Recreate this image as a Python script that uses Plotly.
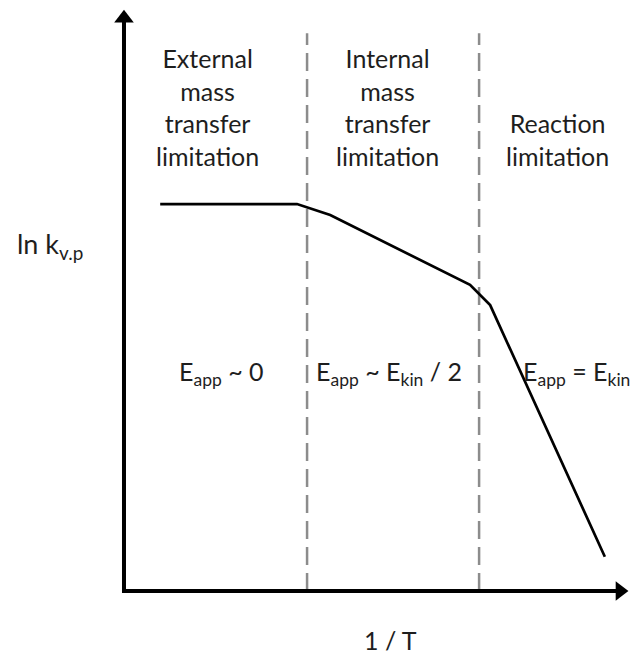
import plotly.graph_objects as go

# Schematic Arrhenius plot: ln k vs 1/T across three rate-limiting regimes
# (arbitrary units, y axis at x=0 and x axis at y=0)
inv_T = [0.72, 3.44, 4.10, 6.88, 7.28, 9.56]
ln_k = [6.66, 6.66, 6.47, 5.27, 4.92, 0.59]

# regime boundaries on the 1/T axis
boundaries = [3.64, 7.06]
boundary_top = 9.60

regime_titles = [
    "External<br>mass<br>transfer<br>limitation",
    "Internal<br>mass<br>transfer<br>limitation",
    "Reaction<br>limitation",
]
regime_title_x = [1.67, 5.23, 8.61]

energy_labels = [
    "E<sub>app</sub> ~ 0",
    "E<sub>app</sub> ~ E<sub>kin</sub> / 2",
    "E<sub>app</sub> = E<sub>kin</sub>",
]
energy_label_x = [1.93, 5.27, 7.89]
energy_label_anchor = ["center", "center", "left"]
energy_label_y = 3.75

axis_len = 10.0
FONT = "Lato, Calibri, Carlito, sans-serif"
TXT = "#1e1e1e"

fig = go.Figure()

# dashed regime boundaries
for xb in boundaries:
    fig.add_trace(go.Scatter(
        x=[xb, xb], y=[0, boundary_top], mode="lines",
        line=dict(color="#8c8c8c", width=2.5, dash="18px,8px"),
        hoverinfo="skip", showlegend=False))

# axes with arrow heads
fig.add_trace(go.Scatter(
    x=[0, 0, axis_len - 0.2], y=[axis_len - 0.2, 0, 0], mode="lines",
    line=dict(color="black", width=4), hoverinfo="skip", showlegend=False))
fig.add_trace(go.Scatter(
    x=[0], y=[axis_len - 0.14], mode="markers",
    marker=dict(symbol="triangle-up", size=17, color="black"),
    hoverinfo="skip", showlegend=False))
fig.add_trace(go.Scatter(
    x=[axis_len - 0.14], y=[0], mode="markers",
    marker=dict(symbol="triangle-right", size=17, color="black"),
    hoverinfo="skip", showlegend=False))

# ln k curve
fig.add_trace(go.Scatter(
    x=inv_T, y=ln_k, mode="lines",
    line=dict(color="black", width=2.7),
    hoverinfo="skip", showlegend=False))

annotations = []
for txt, xc in zip(regime_titles, regime_title_x):
    annotations.append(dict(
        x=xc, y=7.19, xref="x", yref="y", text=txt, showarrow=False,
        xanchor="center", yanchor="bottom", align="center",
        font=dict(family=FONT, size=25, color=TXT)))
for txt, xc, anc in zip(energy_labels, energy_label_x, energy_label_anchor):
    annotations.append(dict(
        x=xc, y=energy_label_y, xref="x", yref="y", text=txt, showarrow=False,
        xanchor=anc, yanchor="middle",
        font=dict(family=FONT, size=25, color=TXT)))
annotations.append(dict(
    x=5.29, y=-0.84, xref="x", yref="y", text="1 / T", showarrow=False,
    xanchor="center", yanchor="middle",
    font=dict(family=FONT, size=25, color=TXT)))
annotations.append(dict(
    x=-1.47, y=5.94, xref="x", yref="y", text="ln k<sub>v.p</sub>",
    showarrow=False, xanchor="center", yanchor="middle",
    font=dict(family=FONT, size=27, color=TXT)))

fig.update_layout(
    width=631, height=654,
    margin=dict(l=0, r=0, t=0, b=0),
    paper_bgcolor="white", plot_bgcolor="white",
    annotations=annotations,
    xaxis=dict(range=[-2.465, 10.08], visible=False, fixedrange=True),
    yaxis=dict(range=[-1.084, 10.172], visible=False, fixedrange=True),
)

fig.write_html("out.html")
